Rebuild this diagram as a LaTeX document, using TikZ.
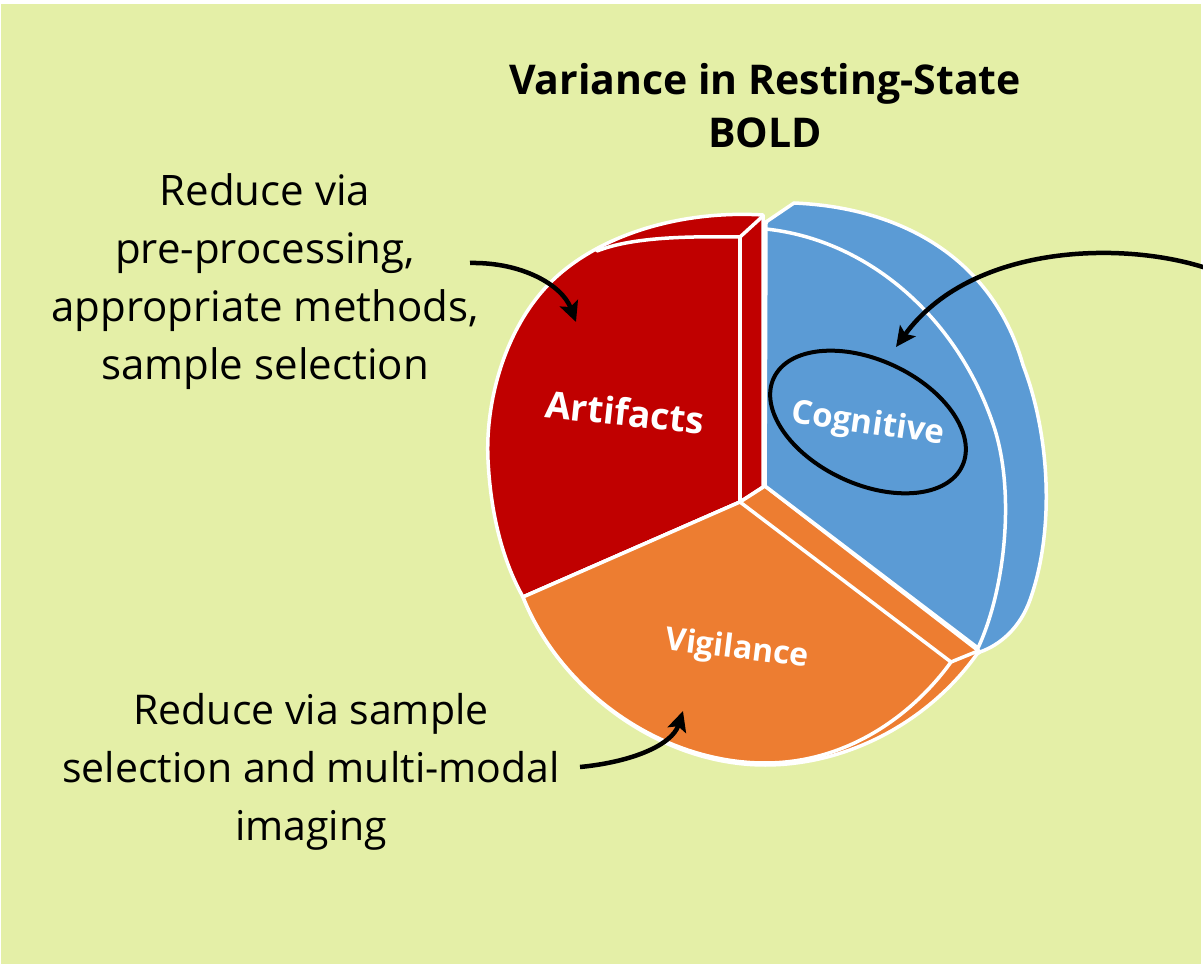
\documentclass[tikz,border=0pt]{standalone}
\usepackage{fontspec}
\setmainfont{Open Sans}
\usetikzlibrary{arrows.meta}
\definecolor{bg}{RGB}{228,239,167}
\definecolor{pred}{RGB}{192,0,0}
\definecolor{pblue}{RGB}{91,155,213}
\definecolor{porange}{RGB}{237,125,49}
\begin{document}
\begin{tikzpicture}[x=1pt,y=-1pt,
  slice/.style={draw=white,line width=3.5pt,line join=round},
  wline/.style={draw=white,line width=3.5pt,line cap=round},
  arr/.style={line width=4.5pt,-{Stealth[length=20pt,width=19pt,inset=4pt]}},
  note/.style={align=center,font=\fontsize{42}{58}\selectfont,inner sep=0pt},
  lab/.style={text=white,inner sep=0pt}]
\useasboundingbox (0,0) rectangle (1203,965);
\fill[white] (0,0) rectangle (1203,965);
\fill[bg] (1,4) rectangle (1201,964);
% red back (top band + side strip)
\path[slice,fill=pred] (763,215) .. controls (680,210) and (600,235) .. (553,280)
  .. controls (506,325) and (485,400) .. (488,460)
  .. controls (491,520) and (505,565) .. (523,597) -- (740,502) -- (763,487) -- cycle;
% blue back
\path[slice,fill=pblue] (766,222) -- (794,203) .. controls (910,208) and (995,265) .. (1023,365)
  .. controls (1050,435) and (1055,530) .. (1030,600)
  .. controls (1020,628) and (1000,645) .. (980,652) -- (765,486) -- cycle;
% orange back
\path[slice,fill=porange] (740,502) -- (765,486) -- (980,652) -- (977,654)
  .. controls (930,720) and (850,765) .. (765,765)
  .. controls (660,765) and (560,690) .. (523,597) -- cycle;
% blue front
\path[slice,fill=pblue] (765,486) -- (766,229) .. controls (870,240) and (960,320) .. (995,430)
  .. controls (1015,495) and (1005,590) .. (978,648) -- cycle;
% orange front
\path[slice,fill=porange] (523,597) -- (740,502) -- (951,662)
  .. controls (915,712) and (850,763) .. (765,763)
  .. controls (660,763) and (560,690) .. (523,597) -- cycle;
% red front edges
\draw[wline] (740,237) -- (740,502);
\draw[wline] (740,237) .. controls (680,236) and (630,238) .. (597,251);
\draw[wline] (740,237) -- (763,216);
\draw[wline] (951,662) -- (978,651);
% labels
\node[lab,rotate=-6,font=\fontsize{37}{40}\selectfont\bfseries] (art) at (625,412) {Artifacts};
\node[lab,rotate=-8,font=\fontsize{33}{36}\selectfont\bfseries] (cog) at (868,425) {Cognitive};
\node[lab,rotate=-7,font=\fontsize{32}{36}\selectfont\bfseries] (vig) at (737,650) {Vigilance};
\draw[line width=4pt,rotate around={-25:(868,422)}] (868,422) ellipse [x radius=104pt, y radius=62pt];
% title and notes
\node[font=\fontsize{41}{53}\selectfont\bfseries,align=center,inner sep=0pt] (title) at (765,106) {Variance in Resting-State\\BOLD};
\node[note] (n1) at (265,282) {Reduce via\\pre-processing,\\appropriate methods,\\sample selection};
\node[note,font=\fontsize{41}{58}\selectfont] (n2) at (311,772) {Reduce via sample\\selection and multi-modal\\imaging};
% arrows
\coordinate (a1s) at (470,263); \coordinate (a1e) at (576,322);
\draw[arr] (a1s) .. controls (522,262) and (562,285) .. (a1e);
\coordinate (a2s) at (580,767); \coordinate (a2e) at (683,711);
\draw[arr] (a2s) .. controls (632,762) and (672,745) .. (a2e);
\coordinate (a3s) at (1206,268); \coordinate (a3e) at (896,347);
\draw[arr] (a3s) .. controls (1120,240) and (970,245) .. (a3e);
\end{tikzpicture}
\end{document}
